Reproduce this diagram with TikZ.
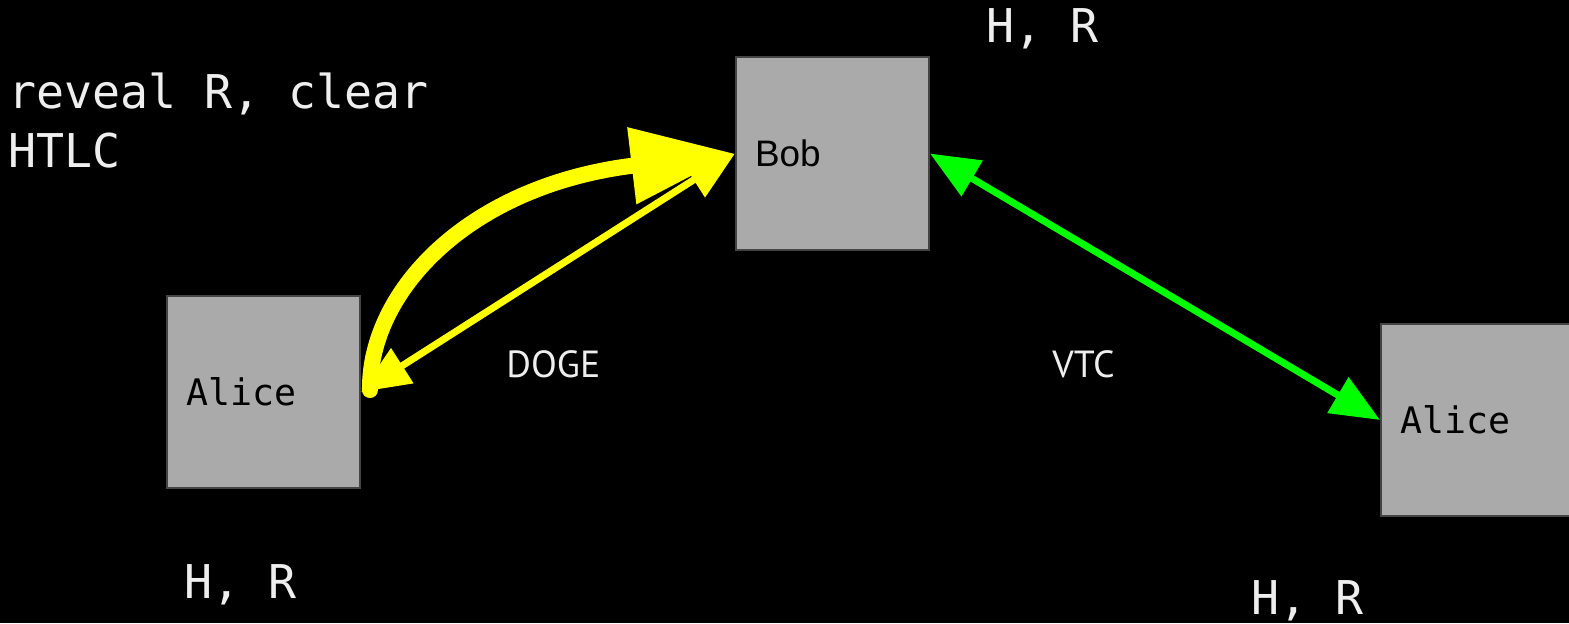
\documentclass[tikz,border=0pt]{standalone}
\usepackage{fontspec}
\usepackage{xcolor}
\usepackage{tikz}
\usetikzlibrary{arrows.meta, positioning}
\newfontfamily\monofont{DejaVu Sans Mono}
\newfontfamily\boxsans{Liberation Sans}
\newfontfamily\chainfont{PT Sans}
\definecolor{boxgray}{HTML}{AAAAAA}
\definecolor{boxline}{HTML}{444444}
\definecolor{labelwhite}{HTML}{EEEEEE}
\definecolor{htlcyellow}{HTML}{FFFF00}
\definecolor{swapgreen}{HTML}{00FF00}

\begin{document}
\begin{tikzpicture}[x=0.02cm, y=-0.02cm,
			party/.style={draw=boxline, line width=0.04cm, fill=boxgray,
				minimum width=3.86cm, minimum height=3.86cm,
				text width=3.1cm, inner xsep=0.38cm, align=left,
				font=\monofont\fontsize{20.8pt}{25pt}\selectfont},
			hashlabel/.style={text=labelwhite, inner sep=0pt, anchor=base west,
				font=\monofont\fontsize{26.5pt}{33.5pt}\selectfont},
			chainlabel/.style={text=labelwhite, inner sep=0pt, anchor=base west,
				font=\chainfont\fontsize{21.5pt}{26pt}\selectfont},
			swap/.style={line width=0.14cm,
				{Triangle[length=0.98cm, width=0.8cm]}-{Triangle[length=0.98cm, width=0.8cm]}},
			reveal/.style={line width=0.32cm, line cap=round,
				-{Triangle[length=2.08cm, width=1.46cm]}}]

			\fill[black] (0,0) rectangle (1569,623);
			\useasboundingbox (0,0) rectangle (1569,623);

			\node[party, font=\boxsans\fontsize{21pt}{25pt}\selectfont] (bob) at (832.5,153.5) {Bob};
			\node[party] (a1) at (263.5,392) {Alice};
			\node[party] (a2) at (1477.5,420) {Alice};

			\draw[swap, htlcyellow] (bob.west) -- (a1.east);
			\draw[reveal, htlcyellow] ([xshift=0.18cm, yshift=0.04cm]a1.east)
				.. controls (369,290) and (470,185) .. (bob.west);
			\draw[swap, swapgreen] (bob.east) -- (a2.west);

			\node[hashlabel] (hrbob) at (986,42) {H, R};
			\node[hashlabel] (hra1) at (184,598) {H, R};
			\node[hashlabel] (hra2) at (1251,614) {H, R};
			\node[hashlabel, align=left] (revealtext) at (8,167) {reveal R, clear\\HTLC};
			\node[chainlabel] (doge) at (506,377) {DOGE};
			\node[chainlabel] (vtc) at (1052,377) {VTC};
		\end{tikzpicture}
\end{document}
